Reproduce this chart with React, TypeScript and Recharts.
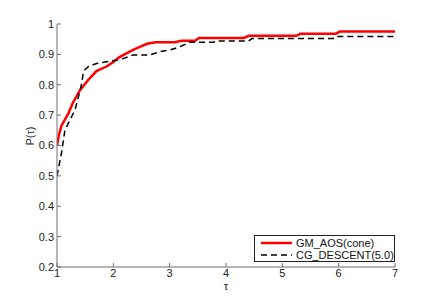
import React from 'react';
import { LineChart, Line, XAxis, YAxis } from 'recharts';

// performance profile: GM_AOS(cone)
const gmTau = [1, 1.04, 1.08, 1.14, 1.2, 1.28, 1.4, 1.55, 1.7, 1.88, 2.0, 2.1, 2.25, 2.35, 2.47, 2.6, 2.75, 3.1, 3.2, 3.45, 3.52, 4.32, 4.4, 5.25, 5.32, 5.95, 6.02, 7];
const gmP = [0.6, 0.64, 0.665, 0.685, 0.705, 0.74, 0.78, 0.815, 0.845, 0.86, 0.875, 0.89, 0.905, 0.915, 0.925, 0.935, 0.94, 0.94, 0.945, 0.945, 0.954, 0.954, 0.961, 0.961, 0.968, 0.968, 0.975, 0.975];

// performance profile: CG_DESCENT(5.0)
const cgTau = [1, 1.08, 1.14, 1.23, 1.32, 1.38, 1.44, 1.47, 1.56, 1.7, 1.88, 2.06, 2.17, 2.35, 2.65, 2.83, 3.0, 3.18, 3.36, 3.78, 3.82, 4.4, 4.46, 5.92, 5.98, 7];
const cgP = [0.5, 0.575, 0.65, 0.684, 0.717, 0.76, 0.805, 0.845, 0.86, 0.87, 0.876, 0.881, 0.886, 0.898, 0.898, 0.909, 0.914, 0.925, 0.94, 0.94, 0.944, 0.944, 0.952, 0.952, 0.959, 0.959];

const xTicks = [1, 2, 3, 4, 5, 6, 7];
const yTicks = [0.2, 0.3, 0.4, 0.5, 0.6, 0.7, 0.8, 0.9, 1];

const seriesNames = ['GM_AOS(cone)', 'CG_DESCENT(5.0)'];

const gmData = gmTau.map((t, i) => ({ t, p: gmP[i] }));
const cgData = cgTau.map((t, i) => ({ t, p: cgP[i] }));

const axisColor = '#6e6e6e';
const font = 'Liberation Sans, Arial, sans-serif';

// MATLAB-style legend box, sits in the lower right corner of the axes
const LegendBox = () => (
  <div
    style={{
      position: 'absolute',
      left: 254,
      top: 235,
      border: '1px solid #222',
      background: '#fff',
      width: 141,
      height: 27,
      fontFamily: font,
      fontSize: 11,
      color: '#111',
      boxSizing: 'border-box',
      padding: '1px 0 0 6px',
      lineHeight: '12px',
    }}
  >
    <div style={{ display: 'flex', alignItems: 'center' }}>
      <svg width={31} height={12}>
        <line x1={0} y1={6} x2={31} y2={6} stroke="#ff0000" strokeWidth={2.5} />
      </svg>
      <span style={{ marginLeft: 4 }}>{seriesNames[0]}</span>
    </div>
    <div style={{ display: 'flex', alignItems: 'center' }}>
      <svg width={31} height={12}>
        <line x1={0} y1={6} x2={31} y2={6} stroke="#000" strokeWidth={1.5} strokeDasharray="6 4" />
      </svg>
      <span style={{ marginLeft: 4 }}>{seriesNames[1]}</span>
    </div>
  </div>
);

export default function App() {
  return (
    <div style={{ position: 'absolute', left: 0, top: 0, width: 436, height: 300, background: '#fff' }}>
      <LineChart width={436} height={300} margin={{ top: 24, right: 41, left: 0, bottom: 0 }}>
        <XAxis
          xAxisId="bottom"
          dataKey="t"
          type="number"
          domain={[1, 7]}
          ticks={xTicks}
          allowDataOverflow
          height={33}
          stroke={axisColor}
          tickSize={-4}
          tickMargin={6}
          tick={{ fill: '#222', fontSize: 11, fontFamily: font }}
          label={{ value: 'τ', position: 'insideBottom', offset: 10, fill: '#222', fontSize: 11, fontFamily: font }}
        />
        <XAxis
          xAxisId="top"
          orientation="top"
          dataKey="t"
          type="number"
          domain={[1, 7]}
          ticks={xTicks}
          allowDataOverflow
          height={0}
          stroke={axisColor}
          tickSize={-4}
          tickFormatter={() => ''}
        />
        <YAxis
          yAxisId="left"
          type="number"
          domain={[0.2, 1]}
          ticks={yTicks}
          allowDataOverflow
          width={57}
          stroke={axisColor}
          tickSize={-4}
          tickMargin={7}
          tick={{ fill: '#222', fontSize: 11, fontFamily: font }}
          label={{ value: 'P(τ)', angle: -90, position: 'insideLeft', offset: 30, fill: '#222', fontSize: 11, fontFamily: font }}
        />
        <YAxis
          yAxisId="right"
          orientation="right"
          type="number"
          domain={[0.2, 1]}
          ticks={yTicks}
          allowDataOverflow
          width={0}
          stroke={axisColor}
          tickSize={-4}
          tickFormatter={() => ''}
        />
        <Line
          xAxisId="bottom"
          yAxisId="left"
          data={gmData}
          dataKey="p"
          name={seriesNames[0]}
          type="linear"
          stroke="#ff0000"
          strokeWidth={2.5}
          dot={false}
          isAnimationActive={false}
        />
        <Line
          xAxisId="bottom"
          yAxisId="left"
          data={cgData}
          dataKey="p"
          name={seriesNames[1]}
          type="linear"
          stroke="#000"
          strokeWidth={1.5}
          strokeDasharray="6 4"
          dot={false}
          isAnimationActive={false}
        />
      </LineChart>
      <LegendBox />
    </div>
  );
}
